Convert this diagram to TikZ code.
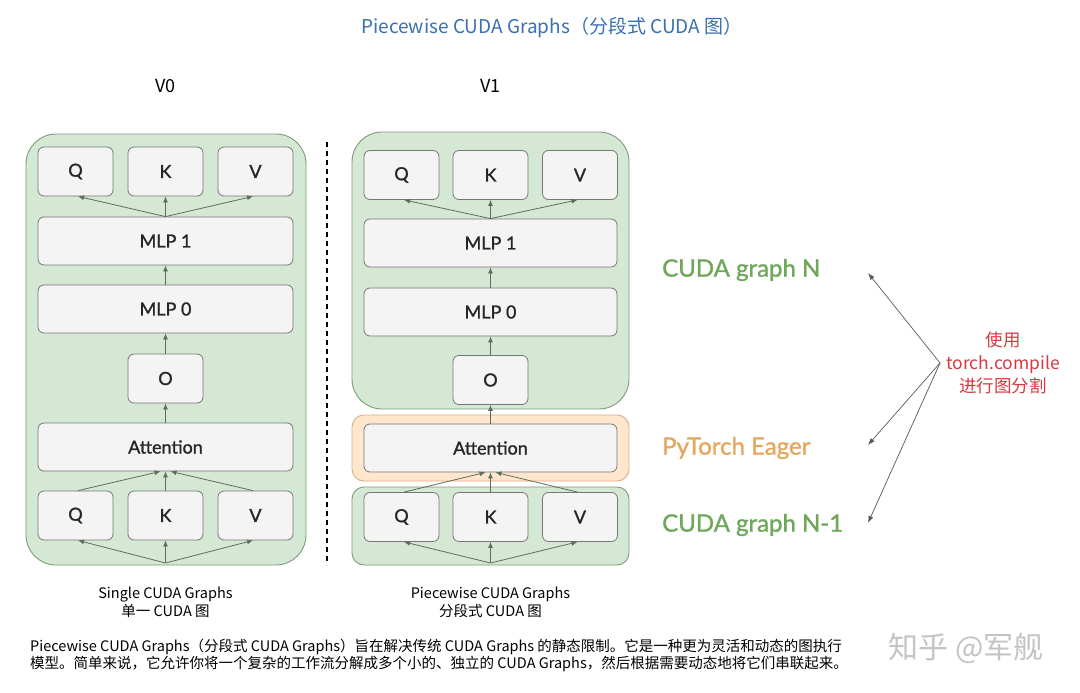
\documentclass[tikz,border=0pt]{standalone}
\usepackage{fontspec}
\setmainfont{Lato}
\newfontfamily\boxfont{Lato}[FakeBold=1.2]
\newfontfamily\cjk{Noto Sans CJK SC}
\usetikzlibrary{arrows.meta,calc}
\definecolor{grfill}{HTML}{D5E8D4}
\definecolor{grline}{HTML}{7F9A7C}
\definecolor{orfill}{HTML}{FFE6CC}
\definecolor{orline}{HTML}{DDAE80}
\definecolor{bxfill}{HTML}{F4F4F4}
\definecolor{bxline}{HTML}{777777}
\definecolor{arr}{HTML}{5D6E5D}
\definecolor{titleblue}{HTML}{3A6FB0}
\definecolor{lblgreen}{HTML}{6FA85A}
\definecolor{lblorange}{HTML}{E5A75E}
\definecolor{redtxt}{HTML}{D8383F}
\definecolor{wm}{HTML}{C4C4C4}
\tikzset{
  cell/.style={draw=bxline, fill=bxfill, line width=0.8pt, rounded corners=6pt,
    minimum width=75pt, minimum height=49pt, inner sep=0pt, font=\boxfont\fontsize{18}{20}\selectfont, text=black!85},
  wide/.style={cell, minimum width=255pt, minimum height=48pt},
  flow/.style={draw=arr, line width=0.8pt, -{Latex[length=6pt,width=5pt]}},
  split/.style={draw=black!65, line width=0.7pt, -{Latex[length=7pt,width=5pt]}},
  group/.style={line width=0.9pt},
  hand/.style={font=\cjk\fontsize{14.5}{17}\selectfont, inner sep=0pt},
  side/.style={font=\boxfont\fontsize{24}{26}\selectfont, anchor=west, inner sep=0pt}
}
\begin{document}
\begin{tikzpicture}[x=1pt,y=-1pt]
\useasboundingbox (0,0) rectangle (1080,693);
\fill[white] (0,0) rectangle (1080,693);

% title
\node[font=\cjk\fontsize{19}{22}\selectfont, text=titleblue] (title) at (552,28) {Piecewise CUDA Graphs（分段式 CUDA 图）};
\node[font=\cjk\fontsize{18}{20}\selectfont] (v0) at (165.5,86) {V0};
\node[font=\cjk\fontsize{18}{20}\selectfont] (v1) at (490.5,86) {V1};

% groups
\draw[group, draw=grline, fill=grfill, rounded corners=30pt] (26,134) rectangle (306,565);
\draw[group, draw=grline, fill=grfill, rounded corners=30pt] (352,132) rectangle (629,409);
\draw[group, draw=orline, fill=orfill, rounded corners=12pt] (352,415) rectangle (629,481);
\draw[group, draw=grline, fill=grfill, rounded corners=12pt] (352,487) rectangle (629,565);

% dashed divider
\coordinate (dtop) at (327,142);
\coordinate (dbot) at (327,565);
\draw[black, line width=1.1pt, dash pattern=on 5pt off 4pt] (dtop) -- (dbot);

% left panel
\node[cell] (lq1) at (75.5,171.5) {Q};
\node[cell] (lk1) at (165.5,171.5) {K};
\node[cell] (lv1) at (255.5,171.5) {V};
\node[wide] (lmlp1) at (165.5,241) {MLP 1};
\node[wide] (lmlp0) at (165.5,309) {MLP 0};
\node[cell] (lo) at (165.5,378.5) {O};
\node[wide] (latt) at (165.5,447) {Attention};
\node[cell] (lq2) at (75.5,515.5) {Q};
\node[cell] (lk2) at (165.5,515.5) {K};
\node[cell] (lv2) at (255.5,515.5) {V};
\coordinate (lin) at (165.5,563);

\draw[flow] (lin) -- ($(lq2.south)+(2.5,0)$);
\draw[flow] (lin) -- (lk2.south);
\draw[flow] (lin) -- ($(lv2.south)+(-2.5,0)$);
\draw[flow] ($(lq2.north)+(2.5,0)$) -- ($(latt.south)+(-5,0)$);
\draw[flow] (lk2.north) -- (latt.south);
\draw[flow] ($(lv2.north)+(-2.5,0)$) -- ($(latt.south)+(5,0)$);
\draw[flow] (latt.north) -- (lo.south);
\draw[flow] (lo.north) -- (lmlp0.south);
\draw[flow] (lmlp0.north) -- (lmlp1.south);
\draw[flow] (lmlp1.north) -- ($(lq1.south)+(2.5,0)$);
\draw[flow] (lmlp1.north) -- (lk1.south);
\draw[flow] (lmlp1.north) -- ($(lv1.south)+(-2.5,0)$);

% right panel
\node[cell] (rq1) at (401.5,175) {Q};
\node[cell] (rk1) at (490.5,175) {K};
\node[cell] (rv1) at (580,175) {V};
\node[wide, minimum width=253pt] (rmlp1) at (490.5,243) {MLP 1};
\node[wide, minimum width=253pt] (rmlp0) at (490.5,312) {MLP 0};
\node[cell] (ro) at (490.5,380) {O};
\node[wide, minimum width=253pt] (ratt) at (490.5,448) {Attention};
\node[cell] (rq2) at (401.5,517) {Q};
\node[cell] (rk2) at (490.5,517) {K};
\node[cell] (rv2) at (580,517) {V};
\coordinate (rin) at (490.5,563);

\draw[flow] (rin) -- ($(rq2.south)+(2.5,0)$);
\draw[flow] (rin) -- (rk2.south);
\draw[flow] (rin) -- ($(rv2.south)+(-2.5,0)$);
\draw[flow] ($(rq2.north)+(2.5,0)$) -- ($(ratt.south)+(-5,0)$);
\draw[flow] (rk2.north) -- (ratt.south);
\draw[flow] ($(rv2.north)+(-2.5,0)$) -- ($(ratt.south)+(5,0)$);
\draw[flow] (ratt.north) -- (ro.south);
\draw[flow] (ro.north) -- (rmlp0.south);
\draw[flow] (rmlp0.north) -- (rmlp1.south);
\draw[flow] (rmlp1.north) -- ($(rq1.south)+(2.5,0)$);
\draw[flow] (rmlp1.north) -- (rk1.south);
\draw[flow] (rmlp1.north) -- ($(rv1.south)+(-2.5,0)$);

% side labels
\node[side, text=lblgreen] (gN) at (662,270) {CUDA graph N};
\node[side, text=lblorange] (eager) at (662,448) {PyTorch Eager};
\node[side, text=lblgreen] (gN1) at (662,525) {CUDA graph N-1};

% split note
\node[font=\cjk\fontsize{17.5}{23}\selectfont, text=redtxt, align=center, inner sep=0pt] (note) at (1003,363) {使用\\torch.compile\\进行图分割};
\coordinate (apex) at (940,363);
\coordinate (t1) at (868,273);
\coordinate (t2) at (868,445);
\coordinate (t3) at (868,523);
\draw[split] (apex) -- (t1);
\draw[split] (apex) -- (t2);
\draw[split] (apex) -- (t3);

% captions
\node[hand, align=center] (capL) at (165.5,602) {Single CUDA Graphs\\[1pt]单一 CUDA 图};
\node[hand, align=center] (capR) at (490.5,602) {Piecewise CUDA Graphs\\[1pt]分段式 CUDA 图};

% paragraph
\node[hand, anchor=west] (p1) at (30,647) {Piecewise CUDA Graphs（分段式 CUDA Graphs）旨在解决传统 CUDA Graphs 的静态限制。它是一种更为灵活和动态的图执行};
\node[hand, anchor=west] (p2) at (30,664) {模型。简单来说，它允许你将一个复杂的工作流分解成多个小的、独立的 CUDA Graphs，然后根据需要动态地将它们串联起来。};

% watermark
\node[font=\cjk\fontsize{30}{32}\selectfont, text=wm, inner sep=0pt] (wmark) at (966,648) {知乎 @军舰};
\end{tikzpicture}
\end{document}
